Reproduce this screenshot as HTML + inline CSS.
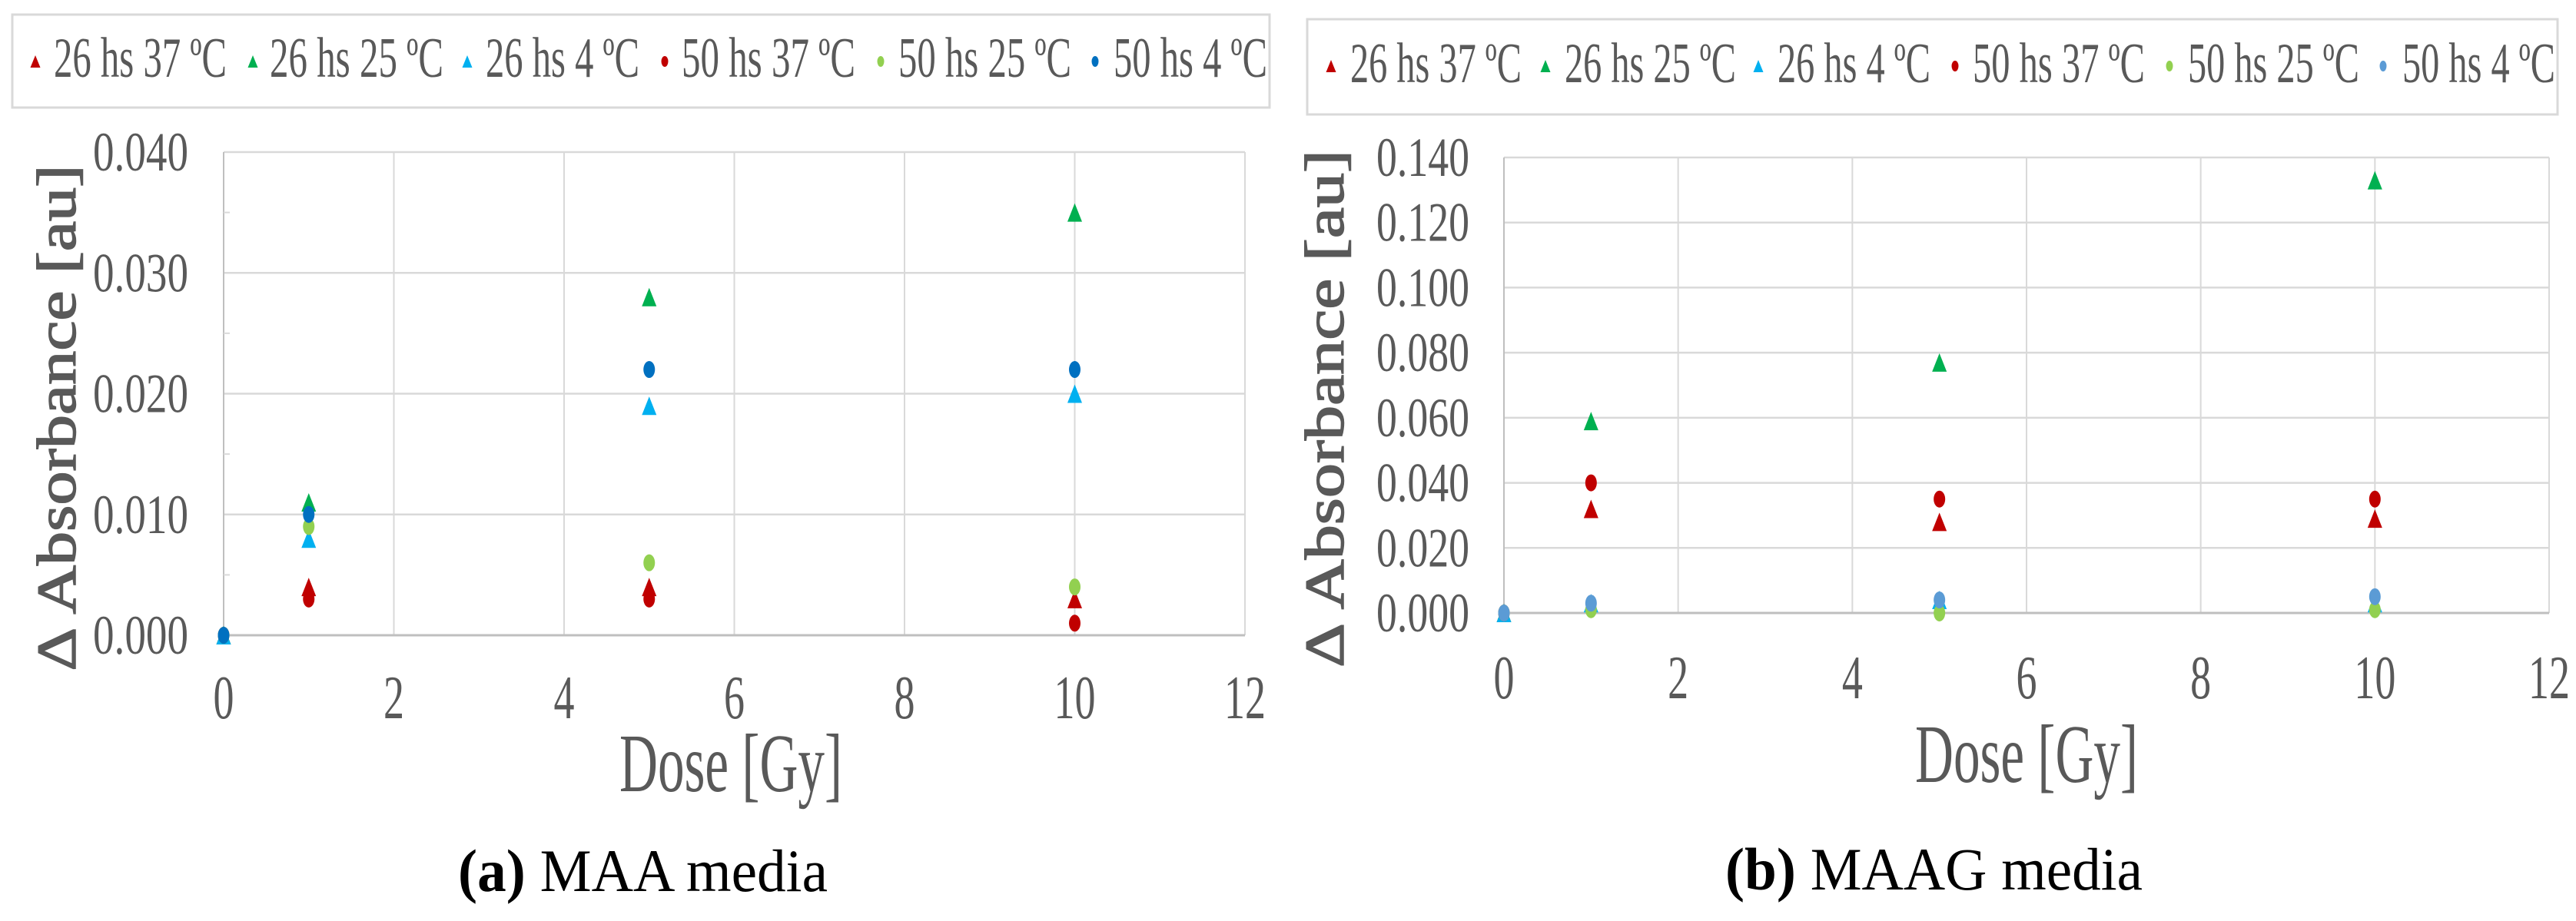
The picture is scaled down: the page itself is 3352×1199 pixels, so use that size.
<!DOCTYPE html>
<html><head><meta charset="utf-8"><style>
html,body{margin:0;padding:0;background:#fff;}
svg{display:block;}
</style></head><body>
<svg id="fig" xmlns="http://www.w3.org/2000/svg" width="3352" height="1199" viewBox="0 0 3352 1199"></svg>
<script>
// ----- data -----
const doses = [0, 1, 5, 10];
const seriesNames = ["26 hs 37 ºC","26 hs 25 ºC","26 hs 4 ºC","50 hs 37 ºC","50 hs 25 ºC","50 hs 4 ºC"];
const seriesShapes = ["tri","tri","tri","dot","dot","dot"];
const maaS1 = [0, 0.004, 0.004, 0.003];
const maaS2 = [0, 0.011, 0.028, 0.035];
const maaS3 = [0, 0.008, 0.019, 0.020];
const maaS4 = [0, 0.003, 0.003, 0.001];
const maaS5 = [0, 0.009, 0.006, 0.004];
const maaS6 = [0, 0.010, 0.022, 0.022];
const maagS1 = [0, 0.032, 0.028, 0.029];
const maagS2 = [0, 0.059, 0.077, 0.133];
const maagS3 = [0, 0.003, 0.004, 0.003];
const maagS4 = [0, 0.040, 0.035, 0.035];
const maagS5 = [0, 0.001, 0.000, 0.001];
const maagS6 = [0, 0.003, 0.004, 0.005];
const xTicks = [0, 2, 4, 6, 8, 10, 12];
const maaYTicks = [0, 0.010, 0.020, 0.030, 0.040];
const maagYTicks = [0, 0.020, 0.040, 0.060, 0.080, 0.100, 0.120, 0.140];

const NS = "http://www.w3.org/2000/svg";
const svg = document.getElementById("fig");
const colorsA = ["#c00000","#00b050","#00b0f0","#c00000","#92d050","#0070c0"];
const colorsB = ["#c00000","#00b050","#00b0f0","#c00000","#92d050","#5b9bd5"];
function el(tag, attrs, parent) {
  const e = document.createElementNS(NS, tag);
  for (const k in attrs) e.setAttribute(k, attrs[k]);
  (parent || svg).appendChild(e);
  return e;
}
function txt(parent, x, y, s, size, anchor, len, family, fill) {
  const t = el("text", {x:x, y:y, "font-size":size, "text-anchor":anchor || "start",
    "font-family": family || '"Liberation Serif", serif', fill: fill || "#595959"}, parent);
  if (len) { t.setAttribute("textLength", len); t.setAttribute("lengthAdjust", "spacingAndGlyphs"); }
  t.textContent = s;
  return t;
}
function marker(g, shape, cx, cy, color, w, h) {
  if (shape === "tri") {
    return el("polygon", {points: (cx-w/2)+","+(cy+h/2)+" "+(cx+w/2)+","+(cy+h/2)+" "+cx+","+(cy-h/2), fill: color}, g);
  }
  return el("ellipse", {cx:cx, cy:cy, rx:w/2, ry:h/2, fill: color}, g);
}

function panel(cfg) {
  const g = el("g", {});
  
  
  // legend
  const lg = el("g", {}, g);
  
  
  el("rect", {x:cfg.lx, y:cfg.ly, width:cfg.lw, height:cfg.lh, fill:"#fff", stroke:"#d9d9d9", "stroke-width":3}, lg);
  seriesNames.forEach((n, i) => {
    const eg = el("g", {}, lg);
    
    
    marker(eg, seriesShapes[i], cfg.mx[i], cfg.lmy, cfg.colors[i], seriesShapes[i]==="tri"?13:9, seriesShapes[i]==="tri"?16:14);
    txt(eg, cfg.tx[i], cfg.lby, n, 74, "start", cfg.tw[i]);
  });
  const X0 = cfg.px0, X1 = cfg.px1, Y0 = cfg.py0, Y1 = cfg.py1;
  const ymax = cfg.yTicks[cfg.yTicks.length-1];
  const xs = v => X0 + (v / 12) * (X1 - X0);
  const ys = v => Y1 - (v / ymax) * (Y1 - Y0);
  // grid
  const grid = el("g", {}, g);
  
  
  xTicks.forEach(v => { if (v > 0) el("line", {x1:xs(v), x2:xs(v), y1:Y0, y2:Y1, stroke:"#d9d9d9", "stroke-width":2}, grid); });
  cfg.yTicks.forEach(v => { if (v > 0) el("line", {x1:X0, x2:X1, y1:ys(v), y2:ys(v), stroke:"#d9d9d9", "stroke-width":2.5}, grid); });
  el("line", {x1:X0, x2:X0, y1:Y0, y2:Y1, stroke:"#bfbfbf", "stroke-width":2}, grid);
  el("line", {x1:X0, x2:X1, y1:Y1, y2:Y1, stroke:"#bfbfbf", "stroke-width":3}, grid);
  if (cfg.minor) {
    for (let i = 0; i < cfg.yTicks.length-1; i++) {
      const m = (cfg.yTicks[i] + cfg.yTicks[i+1]) / 2;
      el("line", {x1:X0, x2:X0+8, y1:ys(m), y2:ys(m), stroke:"#d9d9d9", "stroke-width":2}, grid);
    }
  }
  // ticks
  const yl = el("g", {}, g);
  
  
  cfg.yTicks.forEach(v => txt(yl, cfg.ylx, ys(v) + 24, v.toFixed(3), 72, "end", cfg.ylw));
  const xl = el("g", {}, g);
  
  
  xTicks.forEach(v => txt(xl, xs(v), cfg.xly, String(v), 80, "middle", String(v).length * 27));
  // axis titles
  const xt = txt(g, (cfg.dx0 + cfg.dx1)/2, cfg.dy, "Dose [Gy]", 108, "middle", cfg.dx1 - cfg.dx0);
  
  
  const yt = el("text", {x:0, y:0, "font-size":72, "text-anchor":"middle", "font-family":'"Liberation Serif", serif', fill:"#595959",
    stroke:"#595959", "stroke-width":1.5,
    transform:"translate("+cfg.ytx+","+cfg.ytc+") rotate(-90)", textLength:cfg.ytl, lengthAdjust:"spacingAndGlyphs"}, g);
  yt.textContent = "Δ Absorbance [au]";
  
  
  // points
  cfg.series.forEach((arr, i) => {
    const sg = el("g", {}, g);
    
    
    arr.forEach((v, j) => {
      const m = marker(sg, seriesShapes[i], xs(doses[j]), ys(v), cfg.colors[i], seriesShapes[i]==="tri"?19:15, seriesShapes[i]==="tri"?24:22);
      
      
    });
  });
  // caption
  const cap = el("text", {x:(cfg.cx0+cfg.cx1)/2, y:cfg.cy, "font-size":78, "text-anchor":"middle", "font-family":'"Liberation Serif", serif', fill:"#000",
    textLength:cfg.cx1-cfg.cx0, lengthAdjust:"spacingAndGlyphs"}, g);
  const b = el("tspan", {"font-weight":"bold"}, cap); b.textContent = "(" + cfg.letter + ")";
  cap.appendChild(document.createTextNode(" " + cfg.caption));
  
  
}

panel({name:"maa-chart", letter:"a", caption:"MAA media", colors:colorsA, minor:true,
  lx:16, ly:19, lw:1636, lh:121, lmy:80, lby:100,
  mx:[46,329,608,865,1146,1425], tx:[70,351,632,887,1169,1449], tw:[225,226,200,226,225,200],
  px0:291, px1:1620, py0:198, py1:827, yTicks:maaYTicks,
  ylx:245, ylw:124, xly:935, dx0:806, dx1:1096, dy:1030, ytx:98, ytc:544, ytl:659,
  cx0:596, cx1:1077, cy:1160,
  series:[maaS1,maaS2,maaS3,maaS4,maaS5,maaS6]});
panel({name:"maag-chart", letter:"b", caption:"MAAG media", colors:colorsB, minor:false,
  lx:1701, ly:25, lw:1627, lh:124, lmy:86, lby:107,
  mx:[1732,2011,2288,2544,2823,3101], tx:[1757,2036,2313,2567,2847,3126], tw:[223,223,199,224,223,199],
  px0:1957, px1:3317, py0:205, py1:798, yTicks:maagYTicks,
  ylx:1912, ylw:121, xly:909, dx0:2492, dx1:2782, dy:1018, ytx:1748, ytc:532, ytl:674,
  cx0:2245, cx1:2788, cy:1158,
  series:[maagS1,maagS2,maagS3,maagS4,maagS5,maagS6]});
</script>
</body></html>
